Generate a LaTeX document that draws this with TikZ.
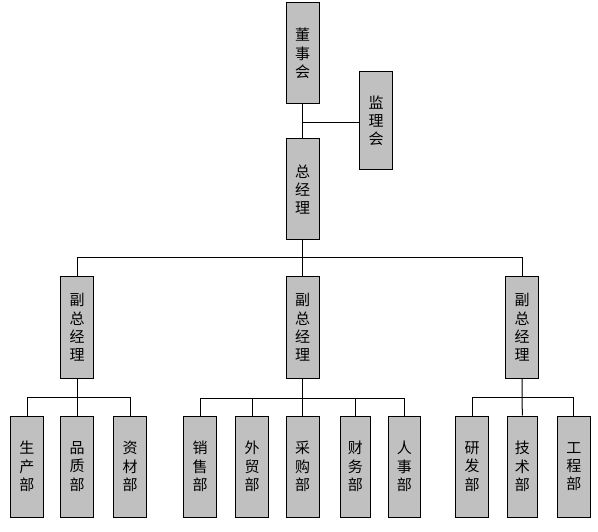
\documentclass[tikz,border=0pt]{standalone}
\usepackage{fontspec}
\setmainfont{Noto Sans CJK SC}
\tikzset{
  box/.style={draw=black, line width=1pt, fill=boxgray, inner sep=0pt,
    align=center, font=\fontsize{15}{18.3}\selectfont, minimum height=101pt},
  conn/.style={draw=black, line width=1pt}
}
\definecolor{boxgray}{HTML}{C0C0C0}
\begin{document}
\begin{tikzpicture}[x=1pt,y=-1pt]
\useasboundingbox (0,0) rectangle (598,532);
\node[box, minimum width=33pt] (dsh) at (302.5,53.5) {董\\事\\会};
\node[box, minimum width=33pt, minimum height=98pt] (jlh) at (376,121) {监\\理\\会};
\node[box, minimum width=33pt] (zjl) at (302.5,189.5) {总\\经\\理};
\node[box, minimum width=33pt] (vp1) at (77,327.5) {副\\总\\经\\理};
\node[box, minimum width=33pt] (vp2) at (302.5,327.5) {副\\总\\经\\理};
\node[box, minimum width=33pt] (vp3) at (522,327.5) {副\\总\\经\\理};
\node[box, minimum width=33pt] (c1) at (27,466.5) {生\\产\\部};
\node[box, minimum width=33pt] (c2) at (77,466.5) {品\\质\\部};
\node[box, minimum width=33pt] (c3) at (130,466.5) {资\\材\\部};
\node[box, minimum width=33pt] (c4) at (200,466.5) {销\\售\\部};
\node[box, minimum width=33pt] (c5) at (252,466.5) {外\\贸\\部};
\node[box, minimum width=33pt] (c6) at (302.5,466.5) {采\\购\\部};
\node[box, minimum width=30pt] (c7) at (355.3,466.5) {财\\务\\部};
\node[box, minimum width=32pt] (c8) at (404.3,466.5) {人\\事\\部};
\node[box, minimum width=33pt] (c9) at (472,466.5) {研\\发\\部};
\node[box, minimum width=30pt] (c10) at (522.3,466.5) {技\\术\\部};
\node[box, minimum width=33pt] (c11) at (573.8,466.5) {工\\程\\部};
\coordinate (jl) at (302.5,123);
\coordinate (bus0) at (0,258);
\coordinate (bus1) at (0,397);
\coordinate (bus2) at (0,398);
\coordinate (bus3) at (0,397);
% top
\draw[conn] (dsh.south) -- (zjl.north);
\draw[conn] (jl) -- (jl -| jlh.west);
\draw[conn] (zjl.south) -- (vp2.north);
\draw[conn] (vp1.north) -- (vp1.north |- bus0) -- (vp3.north |- bus0) -- (vp3.north);
% group 1
\draw[conn] (vp1.south) -- (c2.north);
\draw[conn] (c1.north) -- (c1.north |- bus1) -- (c3.north |- bus1) -- (c3.north);
% group 2
\draw[conn] (vp2.south) -- (c6.north);
\draw[conn] (c4.north) -- (c4.north |- bus2) -- (c8.north |- bus2) -- (c8.north);
\draw[conn] (c5.north) -- (c5.north |- bus2);
\draw[conn] (c7.north) -- (c7.north |- bus2);
% group 3
\draw[conn] (vp3.south) -- (c10.north);
\draw[conn] (c9.north) -- (c9.north |- bus3) -- (c11.north |- bus3) -- (c11.north);
\end{tikzpicture}
\end{document}
